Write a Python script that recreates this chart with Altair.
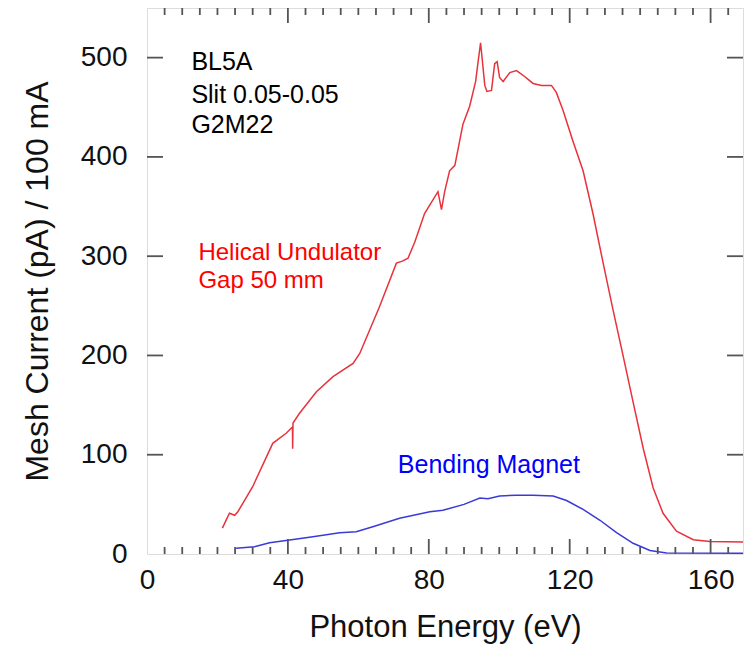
import altair as alt
import pandas as pd

# Helical undulator (red)
hel_E = [21.4, 23.4, 24.9, 25.8, 30.0, 35.7, 39.5, 41.3, 41.35, 41.45, 43.3, 48.1, 52.8, 58.5, 60.4,
         66.0, 70.8, 72.5, 74.1, 76.0, 78.8, 80.7, 82.6, 83.6, 84.5, 85.9, 87.4, 89.7, 91.6, 93.3,
         94.0, 94.7, 95.9, 96.5, 97.8, 98.7, 99.4, 100.1, 101.1, 103.0, 104.9, 107.2, 109.6, 112.0,
         114.8, 116.2, 118.1, 121.0, 123.8, 126.6, 129.5, 132.3, 135.2, 138.0, 140.9, 143.7, 146.5,
         150.3, 155.1, 159.8, 169.2]
hel_I = [26, 41, 39, 42.6, 67.8, 111.5, 121.6, 128, 106, 132, 141.8, 163.5, 178.6, 192, 202,
         249, 293, 295, 298, 314, 343, 354, 365, 347, 365, 386, 391.5, 433, 451, 476,
         496, 515, 472, 466, 467, 494, 496, 480, 476, 485, 487, 481, 474, 472,
         472, 465, 447, 415, 386, 343, 293, 246, 199, 153, 106, 66.5, 41,
         23, 14.4, 12.6, 12]

# Bending magnet (blue)
bm_E = [25.3, 30.5, 34.8, 40.5, 47.1, 54.7, 59.4, 64.1, 71.7, 80.3, 84.0, 90.0, 94.5, 96.8,
        100.1, 104.9, 109.6, 115.3, 119.1, 123.8, 128.6, 133.3, 138.0, 142.8, 147.5, 169.2]
bm_I = [5.7, 7.4, 11.4, 14, 17.4, 21.5, 22.5, 27.5, 36, 42.6, 44, 50, 56.4, 55.7,
        58.5, 59.3, 59.3, 58.5, 53.9, 44.9, 34, 21.6, 10.8, 3.6, 1, 0.7]

# annotations
ann_text = ["BL5A", "Slit 0.05-0.05", "G2M22", "Helical Undulator", "Gap 50 mm", "Bending Magnet"]
ann_E = [12.6, 12.6, 12.6, 14.6, 14.6, 71.2]
ann_I = [488, 454, 424.5, 296.5, 267.5, 81.6]
ann_col = ["black", "black", "black", "red", "red", "blue"]
ann_size = [25, 25, 25, 24, 24, 25]

x_major = [0, 40, 80, 120, 160]
x_minor = [v for v in range(5, 170, 5) if v % 40 != 0]
y_major = [100, 200, 300, 400, 500]

XMAX = 169.2
YMAX = 550
W, H = 596, 546
FONT = "Liberation Sans"
RED = "#e8323c"
BLUE = "#3a3ad8"
TICKC = "#555555"

xs = alt.Scale(domain=[0, XMAX], nice=False, zero=False)
ys = alt.Scale(domain=[0, YMAX], nice=False)

hel = pd.DataFrame({"E": hel_E, "I": hel_I, "o": range(len(hel_E))})
bm = pd.DataFrame({"E": bm_E, "I": bm_I, "o": range(len(bm_E))})
ann = pd.DataFrame({"t": ann_text, "E": ann_E, "I": ann_I, "c": ann_col, "s": ann_size})

xaxis = alt.Axis(values=x_major, title="Photon Energy (eV)", ticks=False, domain=False, grid=False,
                 labelFontSize=28, labelFont=FONT, labelColor="#111", labelPadding=12, labelFlush=False,
                 titleFontSize=31, titleFont=FONT, titleFontWeight="normal", titleColor="#111",
                 titlePadding=18)
yaxis = alt.Axis(values=[0] + y_major, title="Mesh Current (pA) / 100 mA", ticks=False, domain=False,
                 grid=False, labelFontSize=28, labelFont=FONT, labelColor="#111", labelPadding=20,
                 labelFlush=False,
                 titleFontSize=32, titleFont=FONT, titleFontWeight="normal", titleColor="#111",
                 titlePadding=26)

base_line = alt.Chart(hel).mark_line(color=RED, strokeWidth=1.5).encode(
    x=alt.X("E:Q", scale=xs, axis=xaxis),
    y=alt.Y("I:Q", scale=ys, axis=yaxis),
    order="o:Q",
)
bm_line = alt.Chart(bm).mark_line(color=BLUE, strokeWidth=1.5).encode(
    x=alt.X("E:Q", scale=xs), y=alt.Y("I:Q", scale=ys), order="o:Q"
)

texts = alt.Chart(ann).mark_text(align="left", baseline="alphabetic", font=FONT).encode(
    x=alt.X("E:Q", scale=xs), y=alt.Y("I:Q", scale=ys), text="t:N",
    color=alt.Color("c:N", scale=None),
    size=alt.Size("s:Q", scale=None),
)

xmaj = pd.DataFrame({"E": x_major[1:]})
xmin = pd.DataFrame({"E": x_minor})
ymaj = pd.DataFrame({"I": y_major})

tick_style = dict(color=TICKC, strokeWidth=1.8)
bot_major = alt.Chart(xmaj).mark_rule(**tick_style).encode(
    x=alt.X("E:Q", scale=xs), y=alt.value(H), y2=alt.value(H - 15))
bot_minor = alt.Chart(xmin).mark_rule(**tick_style).encode(
    x=alt.X("E:Q", scale=xs), y=alt.value(H), y2=alt.value(H - 7))
top_major = alt.Chart(xmaj).mark_rule(**tick_style).encode(
    x=alt.X("E:Q", scale=xs), y=alt.value(0), y2=alt.value(15))
top_minor = alt.Chart(xmin).mark_rule(**tick_style).encode(
    x=alt.X("E:Q", scale=xs), y=alt.value(0), y2=alt.value(7))
left_major = alt.Chart(ymaj).mark_rule(**tick_style).encode(
    y=alt.Y("I:Q", scale=ys), x=alt.value(0), x2=alt.value(16))
right_major = alt.Chart(ymaj).mark_rule(**tick_style).encode(
    y=alt.Y("I:Q", scale=ys), x=alt.value(W), x2=alt.value(W - 16))

chart = alt.layer(
    base_line, bm_line, texts, bot_major, bot_minor, top_major, top_minor, left_major, right_major
).properties(
    width=W, height=H,
    autosize=alt.AutoSizeParams(type="none"),
    padding={"left": 147, "top": 8, "right": 2, "bottom": 97},
).configure_view(stroke="#555555", strokeWidth=2).configure(background="white")

chart.save("out.html", embed_options={"renderer": "svg", "actions": False})
